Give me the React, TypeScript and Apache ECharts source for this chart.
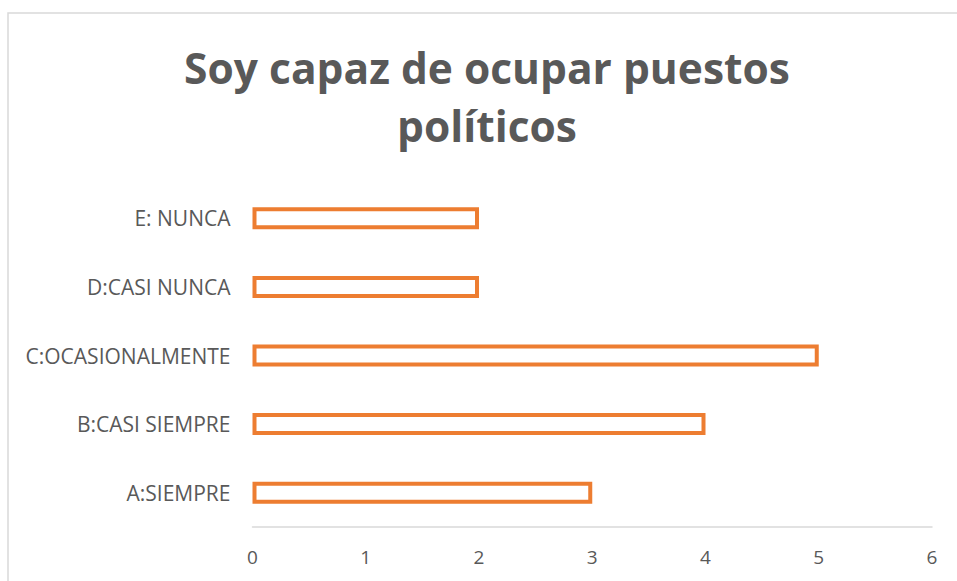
import React, { useEffect, useRef } from "react";
import * as echarts from "echarts";

const categories = ["A:SIEMPRE", "B:CASI SIEMPRE", "C:OCASIONALMENTE", "D:CASI NUNCA", "E: NUNCA"];
const values = [3, 4, 5, 2, 2];
const titleLines = ["Soy capaz de ocupar puestos", "políticos"];
const xMin = 0;
const xMax = 6;
const xInterval = 1;

const GRAY = "#595959";
const ORANGE = "#ED7D31";
const FONT = "'Open Sans', 'Noto Sans', sans-serif";

export default function App() {
  const ref = useRef<HTMLDivElement>(null);
  useEffect(() => {
    if (!ref.current) return;
    const chart = echarts.init(ref.current, null, { renderer: "svg" });
    chart.setOption({
      animation: false,
      backgroundColor: "#ffffff",
      graphic: [
        {
          type: "rect",
          shape: { x: 8, y: 13, width: 1200, height: 900 },
          style: { fill: "none", stroke: "#d9d9d9", lineWidth: 1.5 },
          silent: true,
        },
        {
          type: "text",
          x: 487,
          y: 67,
          style: {
            text: titleLines[0],
            fill: GRAY,
            font: `bold 42.5px ${FONT}`,
            textAlign: "center",
            textVerticalAlign: "middle",
          },
        },
        {
          type: "text",
          x: 487,
          y: 125,
          style: {
            text: titleLines[1],
            fill: GRAY,
            font: `bold 42.5px ${FONT}`,
            textAlign: "center",
            textVerticalAlign: "middle",
          },
        },
      ],
      grid: {
        left: 252.5,
        right: 25,
        top: 184,
        bottom: 54,
        containLabel: false,
        outerBoundsMode: "none",
      },
      xAxis: {
        type: "value",
        min: xMin,
        max: xMax,
        interval: xInterval,
        axisLine: { show: true, lineStyle: { color: "#d9d9d9", width: 1.5 } },
        axisTick: { show: false },
        splitLine: { show: false },
        axisLabel: {
          color: GRAY,
          fontFamily: FONT,
          fontSize: 19,
          margin: 20,
        },
      },
      yAxis: {
        type: "category",
        data: categories,
        axisLine: { show: false },
        axisTick: { show: false },
        splitLine: { show: false },
        axisLabel: {
          color: GRAY,
          fontFamily: FONT,
          fontSize: 21,
          margin: 22,
        },
      },
      series: [
        {
          type: "bar",
          data: values,
          barWidth: 22,
          itemStyle: {
            color: "#ffffff",
            borderColor: ORANGE,
            borderWidth: 4,
          },
        },
      ],
    });
    return () => chart.dispose();
  }, []);
  return (
    <div
      ref={ref}
      style={{ position: "absolute", left: 0, top: 0, width: 957, height: 581 }}
    />
  );
}
